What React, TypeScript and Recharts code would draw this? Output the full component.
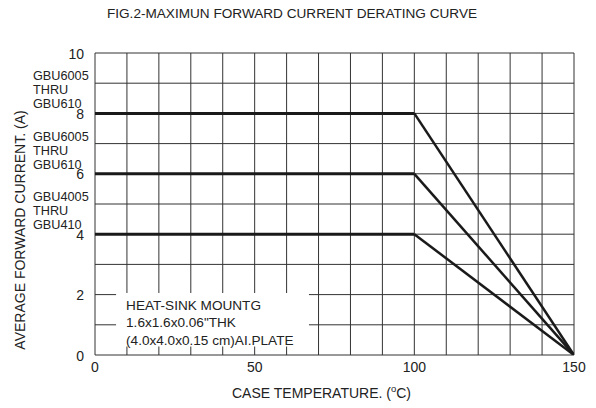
import React from 'react';
import {
  LineChart,
  Line,
  XAxis,
  YAxis,
  CartesianGrid,
  ReferenceArea,
  ReferenceDot,
} from 'recharts';

// ---- data ----
const title = 'FIG.2-MAXIMUN FORWARD CURRENT DERATING CURVE';
const xTitle = 'CASE TEMPERATURE. (';
const yTitle = 'AVERAGE FORWARD CURRENT. (A)';

const caseTemps = [0, 100, 150];
const currentHigh = [8, 8, 0];
const currentMid = [6, 6, 0];
const currentLow = [4, 4, 0];

const seriesLabels = [
  ['GBU6005', 'THRU', 'GBU610'],
  ['GBU6005', 'THRU', 'GBU610'],
  ['GBU4005', 'THRU', 'GBU410'],
];

const xTicks = [0, 50, 100, 150];
const yTicks = [0, 2, 4, 6, 8, 10];
const xGrid = [0, 10, 20, 30, 40, 50, 60, 70, 80, 90, 100, 110, 120, 130, 140, 150];
const yGrid = [0, 1, 2, 3, 4, 5, 6, 7, 8, 9, 10];

const legendLines = ['HEAT-SINK MOUNTG', '1.6x1.6x0.06"THK', '(4.0x4.0x0.15 cm)AI.PLATE'];
const legendBox = { x1: 6.6, x2: 67, y1: 0.28, y2: 2.05 };

const allSeries = [currentHigh, currentMid, currentLow];

const FONT = '"Liberation Sans", Arial, sans-serif';
const INK = '#222';

function toPoints(values: number[]) {
  return caseTemps.map((t, i) => ({ t, i: values[i] }));
}

const YTick = (props: any) => {
  const { x, y, payload } = props;
  return (
    <text x={x} y={y} dy={5.5} textAnchor="end" fontSize={14} fill={INK} fontFamily={FONT}>
      {payload.value}
    </text>
  );
};

const XTick = (props: any) => {
  const { x, y, payload } = props;
  return (
    <text x={x} y={y} dy={13} textAnchor="middle" fontSize={14} fill={INK} fontFamily={FONT}>
      {payload.value}
    </text>
  );
};

const makeSeriesLabel = (lines: string[]) => (props: any) => {
  const vb = props.viewBox || {};
  const x = vb.x - 62;
  const y = vb.y;
  return (
    <g>
      {lines.map((s, k) => (
        <text
          key={k}
          x={x}
          y={y - 33 + k * 14}
          fontSize={12.7}
          fill={INK}
          fontFamily={FONT}
        >
          {s}
        </text>
      ))}
    </g>
  );
};

const LegendContent = (props: any) => {
  const vb = props.viewBox || {};
  return (
    <g>
      {legendLines.map((s, k) => (
        <text
          key={k}
          x={vb.x + 10}
          y={vb.y + 16.5 + k * 17.5}
          fontSize={13.6}
          fill={INK}
          fontFamily={FONT}
        >
          {s}
        </text>
      ))}
    </g>
  );
};

export default function App() {
  return (
    <div
      style={{
        position: 'absolute',
        left: 0,
        top: 0,
        width: 596,
        height: 408,
        background: '#fff',
        fontFamily: FONT,
      }}
    >
      <div
        style={{
          position: 'absolute',
          left: 0,
          width: 584,
          top: 6,
          textAlign: 'center',
          fontSize: 13.6,
          color: INK,
          whiteSpace: 'nowrap',
        }}
      >
        {title}
      </div>
      <LineChart
        width={596}
        height={408}
        margin={{ top: 53, right: 22, bottom: 23, left: 55 }}
      >
        <CartesianGrid
          stroke="#333"
          strokeWidth={1}
          verticalValues={xGrid}
          horizontalValues={yGrid}
          syncWithTicks
        />
        <XAxis
          type="number"
          dataKey="t"
          domain={[0, 150]}
          ticks={xTicks}
          interval={0}
          axisLine={false}
          tickLine={false}
          tickSize={0}
          tickMargin={4}
          height={30}
          tick={<XTick />}
          allowDataOverflow
        />
        <YAxis
          type="number"
          dataKey="i"
          domain={[0, 10]}
          ticks={yTicks}
          interval={0}
          axisLine={false}
          tickLine={false}
          tickSize={0}
          tickMargin={11}
          width={40}
          tick={<YTick />}
          allowDataOverflow
        />
        <ReferenceArea
          x1={legendBox.x1}
          x2={legendBox.x2}
          y1={legendBox.y1}
          y2={legendBox.y2}
          fill="#fff"
          fillOpacity={1}
          stroke="none"
          label={<LegendContent />}
        />
        {allSeries.map((vals, k) => {
          const pts = toPoints(vals);
          return (
            <Line
              key={'flat' + k}
              data={pts.slice(0, 2)}
              dataKey="i"
              type="linear"
              stroke="#1a1a1a"
              strokeWidth={3}
              dot={false}
              activeDot={false}
              isAnimationActive={false}
            />
          );
        })}
        {allSeries.map((vals, k) => {
          const pts = toPoints(vals);
          return (
            <Line
              key={'slope' + k}
              data={pts.slice(1)}
              dataKey="i"
              type="linear"
              stroke="#1a1a1a"
              strokeWidth={2.5}
              dot={false}
              activeDot={false}
              isAnimationActive={false}
            />
          );
        })}
        {allSeries.map((vals, k) => (
          <ReferenceDot
            key={'lbl' + k}
            x={caseTemps[0]}
            y={vals[0]}
            r={0}
            fill="none"
            stroke="none"
            ifOverflow="visible"
            label={makeSeriesLabel(seriesLabels[k])}
          />
        ))}
      </LineChart>
      <div
        style={{
          position: 'absolute',
          left: 232,
          top: 385,
          fontSize: 14,
          color: INK,
          whiteSpace: 'nowrap',
        }}
      >
        {xTitle}
        <sup style={{ fontSize: 9.5, verticalAlign: 'top', position: 'relative', top: -2 }}>o</sup>
        C)
      </div>
      <div
        style={{
          position: 'absolute',
          left: 20,
          top: 230,
          fontSize: 14,
          color: INK,
          whiteSpace: 'nowrap',
          transform: 'translate(-50%, -50%) rotate(-90deg)',
        }}
      >
        {yTitle}
      </div>
    </div>
  );
}
